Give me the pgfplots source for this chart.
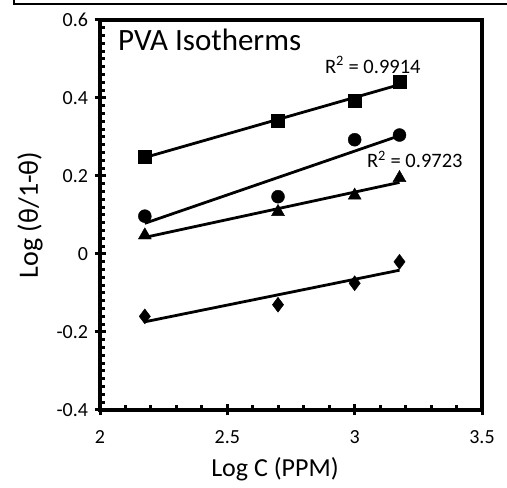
\documentclass[border=0pt]{standalone}
\usepackage{pgfplots}
\usepackage{pgfplotstable}
\pgfplotsset{compat=1.18}
\usepackage{fontspec}
\setmainfont{Carlito}
\newcommand\tk{\fontsize{20bp}{22bp}\selectfont}

\pgfplotstableread{
x      sq     ci     tr     di
2.176  0.250  0.097  0.048  -0.160
2.699  0.343  0.147  0.108  -0.130
3.000  0.392  0.293  0.150  -0.075
3.176  0.443  0.305  0.195  -0.020
}\data

\begin{document}
\begin{tikzpicture}[x=1bp,y=1bp]
\useasboundingbox (0,0) rectangle (507,488);
\draw[line width=2bp] (14,488) -- (14,484) -- (507,484);
\begin{axis}[
  at={(100bp,78bp)}, anchor=south west,
  scale only axis, width=382bp, height=390bp,
  xmin=2, xmax=3.5, ymin=-0.4, ymax=0.6,
  xtick={2,2.5,3,3.5}, ytick={-0.4,-0.2,0,0.2,0.4,0.6},
  xticklabels={\tk 2,\tk 2.5,\tk 3,\tk 3.5},
  yticklabels={\tk -0.4,\tk -0.2,\tk 0,\tk 0.2,\tk 0.4,\tk 0.6},
  minor x tick num=4, minor y tick num=9,
  tick pos=left, tick align=center,
  major tick length=11bp, minor tick length=5bp,
  minor y tick style={xshift=2.5bp}, minor x tick style={yshift=2.5bp},
  every tick/.style={black, line width=3bp},
  axis line style={line width=3.5bp},
  yticklabel style={xshift=-3bp},
  xticklabel style={yshift=-12bp},
  xlabel={Log C (PPM)}, ylabel={Log (θ/1-θ)},
  xlabel style={font=\fontsize{26bp}{28bp}\selectfont, at={(axis description cs:0.458,-0.152)}, anchor=center},
  ylabel style={font=\fontsize{28bp}{30bp}\selectfont, at={(axis description cs:-0.183,0.5)}, anchor=center, rotate=0},
  clip=false,
]
\addplot[only marks, mark=square*, mark size=6.5bp, black] table[x=x,y=sq]{\data};
\addplot[only marks, mark=*, mark size=6.5bp, black] table[x=x,y=ci]{\data};
\addplot[only marks, mark=triangle*, mark size=7.5bp, black] table[x=x,y=tr]{\data};
\addplot[only marks, mark=diamond*, mark size=7.5bp, black] table[x=x,y=di]{\data};
\addplot[no markers, black, line width=2.8bp] table[x=x,y={create col/linear regression={y=sq}}]{\data};
\addplot[no markers, black, line width=2.8bp] table[x=x,y={create col/linear regression={y=ci}}]{\data};
\addplot[no markers, black, line width=2.8bp] table[x=x,y={create col/linear regression={y=tr}}]{\data};
\addplot[no markers, black, line width=2.8bp] table[x=x,y={create col/linear regression={y=di}}]{\data};
\node[anchor=base west, font=\fontsize{31bp}{33bp}\selectfont, inner sep=0pt] at (axis description cs:0.047,0.9205) {PVA Isotherms};
\node[anchor=base west, font=\fontsize{20.5bp}{22bp}\selectfont, inner sep=0pt] at (axis cs:2.883,0.464) {R\textsuperscript{2} = 0.9914};
\node[anchor=base west, font=\fontsize{20.5bp}{22bp}\selectfont, inner sep=0pt] at (axis cs:3.048,0.2205) {R\textsuperscript{2} = 0.9723};
\end{axis}
\end{tikzpicture}
\end{document}
